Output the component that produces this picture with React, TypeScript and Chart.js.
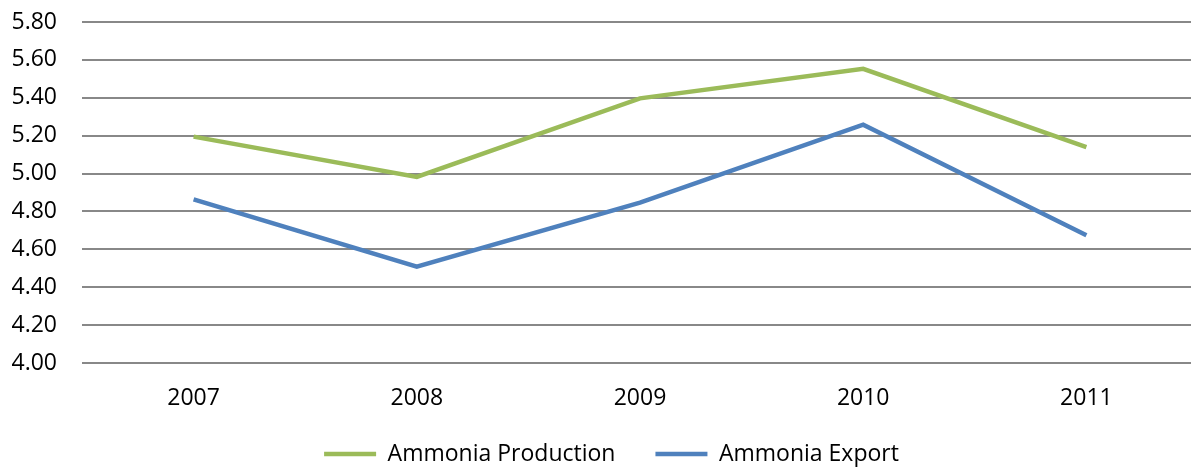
import React, { useEffect, useRef } from "react";
import { Chart, registerables } from "chart.js";

Chart.register(...registerables);

const years = ["2007", "2008", "2009", "2010", "2011"];
const ammoniaProduction = [5.195, 4.982, 5.397, 5.553, 5.139];
const ammoniaExport = [4.864, 4.508, 4.847, 5.258, 4.674];
const yMin = 4.0;
const yMax = 5.8;
const yStep = 0.2;

const FONT = "'Open Sans', 'Liberation Sans', sans-serif";
const FS = 23;

const legendShift = {
  id: "legendShift",
  afterLayout(chart: any) {
    const l = chart.legend;
    if (!l) return;
    l.left += 25;
    l.top -= 10.5;
    l.height += 10.5;
  },
};

export default function App() {
  const ref = useRef<HTMLCanvasElement | null>(null);

  useEffect(() => {
    document.body.style.margin = "0";
    document.body.style.overflow = "hidden";
    const ctx = ref.current!.getContext("2d")!;
    const chart = new Chart(ctx, {
      type: "line",
      data: {
        labels: years,
        datasets: [
          {
            label: "Ammonia Production",
            data: ammoniaProduction,
            borderColor: "#9BBB59",
            backgroundColor: "#9BBB59",
            borderWidth: 4.5,
            pointRadius: 0,
            tension: 0,
          },
          {
            label: "Ammonia Export",
            data: ammoniaExport,
            borderColor: "#4F81BD",
            backgroundColor: "#4F81BD",
            borderWidth: 4.5,
            pointRadius: 0,
            tension: 0,
          },
        ],
      },
      plugins: [legendShift],
      options: {
        responsive: false,
        animation: false,
        layout: { padding: { top: 8, left: 0, right: 0, bottom: 0 } },
        plugins: {
          legend: {
            position: "bottom",
            maxHeight: 54,
            labels: {
              usePointStyle: true,
              pointStyle: "line",
              pointStyleWidth: 52,
              boxHeight: 5,
              color: "#000",
              font: { family: FONT, size: FS },
              padding: 40,
            },
          },
          tooltip: { enabled: false },
        },
        scales: {
          x: {
            offset: true,
            grid: { display: false },
            border: { display: false },
            afterFit: (axis: any) => {
              axis.height = 50;
            },
            ticks: { color: "#000", font: { family: FONT, size: FS }, padding: 14 },
          },
          y: {
            min: yMin,
            max: yMax,
            afterFit: (axis: any) => {
              axis.width = 82;
              axis.paddingTop = 22;
              axis.paddingBottom = 0;
            },
            grid: { color: "#888888", lineWidth: 2, drawTicks: false },
            border: { display: false },
            ticks: {
              stepSize: yStep,
              color: "#000",
              font: { family: FONT, size: FS },
              padding: 25,
              callback: (v: any) => Number(v).toFixed(2),
            },
          },
        },
      },
    });
    return () => chart.destroy();
  }, []);

  return (
    <div style={{ width: 1191, height: 467, overflow: "hidden", position: "relative" }}>
      <canvas ref={ref} width={1198} height={467} style={{ position: "absolute", left: 0, top: 0 }} />
    </div>
  );
}
